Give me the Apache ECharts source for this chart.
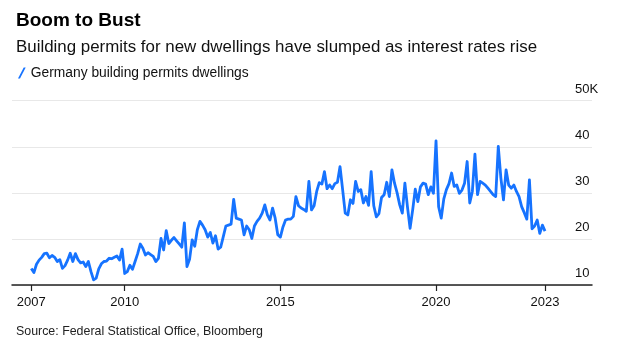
<!DOCTYPE html>
<html>
<head>
<meta charset="utf-8">
<script src="https://cdn.jsdelivr.net/npm/echarts@6/dist/echarts.min.js"></script>
<style>
  html, body { margin: 0; padding: 0; background: #fff; }
  #chart { width: 623px; height: 349px; }
</style>
</head>
<body>
<div id="chart"></div>
<script>
// Monthly German building permits for dwellings (thousands), Jan 2007 onward
const startYear = 2007;
const permits = [
  13.6, 12.7, 14.5, 15.4, 16.0, 16.8, 16.9, 15.9, 16.4, 16.0, 15.1, 15.5,
  13.6, 14.2, 15.4, 16.9, 15.1, 16.8, 15.5, 14.8, 15.0, 14.0, 15.1, 12.9,
  11.1, 11.5, 13.5, 14.6, 15.1, 15.2, 15.8, 15.7, 16.0, 16.3, 15.4, 17.8,
  12.5, 12.9, 14.3, 13.4, 15.1, 16.8, 18.9, 18.0, 16.5, 17.0, 16.6, 16.2,
  15.1, 15.8, 20.1, 17.6, 21.8, 19.0, 19.7, 20.3, 19.6, 18.9, 18.2, 23.5,
  14.0, 15.6, 19.8, 18.4, 22.0, 23.8, 23.0, 22.0, 20.4, 21.4, 19.1, 20.7,
  17.8, 18.2, 20.5, 22.8, 23.0, 23.2, 28.6, 24.5, 24.3, 24.1, 20.9, 22.8,
  22.0, 20.1, 22.8, 23.8, 24.5, 25.6, 27.4, 25.2, 24.1, 26.7, 24.5, 20.9,
  20.4, 22.6, 24.1, 24.3, 24.3, 24.9, 29.2, 27.2, 26.7, 26.4, 26.0, 32.5,
  26.3, 27.2, 30.3, 32.2, 31.9, 34.6, 30.9, 31.7, 30.9, 32.0, 32.3, 35.7,
  30.7, 25.6, 25.2, 28.5, 27.7, 32.5, 30.3, 30.7, 27.8, 29.2, 27.3, 34.6,
  27.2, 24.8, 25.5, 29.0, 29.6, 32.3, 29.2, 35.0, 32.1, 30.0, 27.4, 25.6,
  32.1, 26.9, 22.3, 26.3, 30.8, 28.1, 31.3, 32.1, 31.9, 29.6, 31.3, 29.9,
  41.3, 27.0, 24.5, 28.7, 30.7, 32.0, 34.3, 31.4, 31.7, 29.9, 30.6, 32.1,
  36.8, 27.8, 30.3, 38.4, 29.6, 32.5, 32.1, 31.7, 31.0, 30.3, 29.6, 29.2,
  40.1, 33.2, 28.5, 35.0, 31.7, 31.0, 31.7, 30.3, 29.2, 27.0, 25.7, 24.3,
  32.8, 22.2, 22.8, 24.1, 21.2, 23.0, 21.7
];
const tickPositions = [2007, 2010, 2015, 2020, 2023.5];
const tickLabels = ['2007', '2010', '2015', '2020', '2023'];

const seriesData = permits.map((v, i) => [startYear + i / 12, v]);

const chart = echarts.init(document.getElementById('chart'), null, { renderer: 'canvas' });
const FONT = 'Liberation Sans, Arial, sans-serif';
chart.setOption({
  animation: false,
  backgroundColor: '#ffffff',
  title: [
    { text: 'Boom to Bust', left: 11, top: 6,
      textStyle: { fontFamily: FONT, fontSize: 19, fontWeight: 'bold', color: '#000' } },
    { text: 'Building permits for new dwellings have slumped as interest rates rise', left: 11, top: 34,
      textStyle: { fontFamily: FONT, fontSize: 16.9, fontWeight: 'normal', color: '#111' } },
    { text: 'Source: Federal Statistical Office, Bloomberg', left: 11, top: 321,
      textStyle: { fontFamily: FONT, fontSize: 12.4, fontWeight: 'normal', color: '#222' } }
  ],
  legend: {
    left: 13, top: 61,
    icon: 'path://M0,10 L1.8,10 L7,0 L5.2,0 Z',
    itemWidth: 8, itemHeight: 11, itemGap: 10,
    textStyle: { fontFamily: FONT, fontSize: 13.8, color: '#111' },
    data: ['Germany building permits dwellings']
  },
  grid: { left: 12, right: 31, top: 100.7, bottom: 64, containLabel: false },
  xAxis: {
    type: 'value',
    min: 2006.38, max: 2025.01,
    axisLine: { show: true, lineStyle: { color: '#222', width: 1.5 } },
    axisTick: { show: true, customValues: tickPositions, length: 6, lineStyle: { color: '#222', width: 1.2 } },
    axisLabel: {
      customValues: tickPositions,
      formatter: v => { const k = tickPositions.indexOf(v); return k >= 0 ? tickLabels[k] : String(Math.floor(v)); },
      fontFamily: FONT, fontSize: 13, color: '#111', margin: 11
    },
    splitLine: { show: false }
  },
  yAxis: {
    type: 'value', position: 'right',
    min: 10, max: 50, interval: 10,
    axisLine: { show: false }, axisTick: { show: false },
    axisLabel: {
      inside: true, align: 'left', verticalAlign: 'bottom', margin: 17,
      padding: [0, 0, 5, 0],
      formatter: v => (v === 50 ? '50K' : String(v)),
      fontFamily: FONT, fontSize: 13, color: '#111'
    },
    splitLine: { show: true, lineStyle: { color: '#e8e8e8', width: 1.2 } }
  },
  series: [{
    name: 'Germany building permits dwellings',
    type: 'line',
    data: seriesData,
    showSymbol: false,
    symbol: 'none',
    lineStyle: { color: '#1673ff', width: 2.8, join: 'round' },
    itemStyle: { color: '#1673ff' }
  }]
});
</script>
</body>
</html>
